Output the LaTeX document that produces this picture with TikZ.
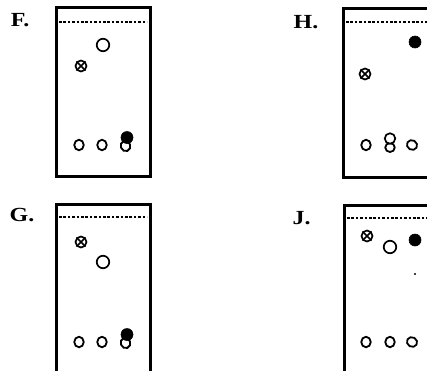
\documentclass[tikz,border=0pt]{standalone}
\usepackage{fontspec}
\setmainfont{Liberation Serif}
\usetikzlibrary{shapes.geometric}
\begin{document}
\begin{tikzpicture}[x=1pt,y=-1pt,
  frame/.style={line width=3pt},
  front/.style={line width=1.3pt,dash pattern=on 2.6pt off 1.8pt},
  lbl/.style={font=\fontsize{20}{20}\selectfont\bfseries,inner sep=0pt,xscale=1.2},
  spot/.style={ellipse,draw,line width=1.8pt,fill=white,minimum width=9.5pt,minimum height=10.5pt,inner sep=0pt},
  ring/.style={circle,draw,line width=1.7pt,fill=white,minimum size=12.5pt,inner sep=0pt},
  dark/.style={circle,draw,fill=black,line width=0.6pt,minimum size=12pt,inner sep=0pt},
  xspot/.style={circle,draw,line width=1.7pt,minimum size=11pt,inner sep=0pt},
  xbar/.style={line width=1.5pt},
  speck/.style={circle,fill=black,minimum size=2.2pt,inner sep=0pt}]
\useasboundingbox (0,0) rectangle (427,370);
\clip (0,0) rectangle (427,370);

% plate F
\node[lbl] (lF) at (20,20) {F.};
\draw[frame] (56,7) rectangle (150,176);
\draw[front] (59,22) -- (147,22);
\node[ring] (F1) at (103,45) {};
\node[xspot] (F2) at (81,66) {};
\draw[xbar] (F2.north east) -- (F2.south west) (F2.north west) -- (F2.south east);
\node[spot] (F3) at (79,145) {};
\node[spot] (F4) at (102,145) {};
\node[spot,rotate=20] (F5) at (125.5,146) {};
\node[dark] (F6) at (127,137.5) {};

% plate H
\node[lbl] (lH) at (306,22) {H.};
\draw[frame] (343,8) rectangle (432,177);
\draw[front] (346,22) -- (427,22);
\node[dark] (H1) at (415,42) {};
\node[xspot] (H2) at (365,74) {};
\draw[xbar] (H2.north east) -- (H2.south west) (H2.north west) -- (H2.south east);
\node[spot] (H3) at (366,145) {};
\node[spot,minimum height=9pt] (H4) at (390,147.5) {};
\node[ring,minimum size=10.5pt] (H5) at (390,138.5) {};
\node[spot,rotate=60] (H6) at (412,145) {};

% plate G
\node[lbl] (lG) at (22,215) {G.};
\draw[frame] (56,375) -- (56,204) -- (150,204) -- (150,375);
\draw[front] (59,217) -- (147,217);
\node[xspot] (G1) at (81,242) {};
\draw[xbar] (G1.north east) -- (G1.south west) (G1.north west) -- (G1.south east);
\node[ring] (G2) at (103,262) {};
\node[spot] (G3) at (79,342) {};
\node[spot] (G4) at (102,342) {};
\node[spot,rotate=20] (G5) at (125.5,343) {};
\node[dark] (G6) at (127,334.5) {};

% plate J
\node[lbl] (lJ) at (301.5,218) {J.};
\draw[frame] (344,375) -- (344,205) -- (432,205);
\draw[front] (347,218) -- (427,218);
\node[xspot] (J1) at (367,236) {};
\draw[xbar] (J1.north east) -- (J1.south west) (J1.north west) -- (J1.south east);
\node[ring] (J2) at (390,247) {};
\node[dark] (J3) at (415,240) {};
\node[speck] (J4) at (415,274) {};
\node[spot] (J5) at (366,342) {};
\node[spot] (J6) at (390,342) {};
\node[spot,rotate=60] (J7) at (412,342) {};
\end{tikzpicture}
\end{document}
